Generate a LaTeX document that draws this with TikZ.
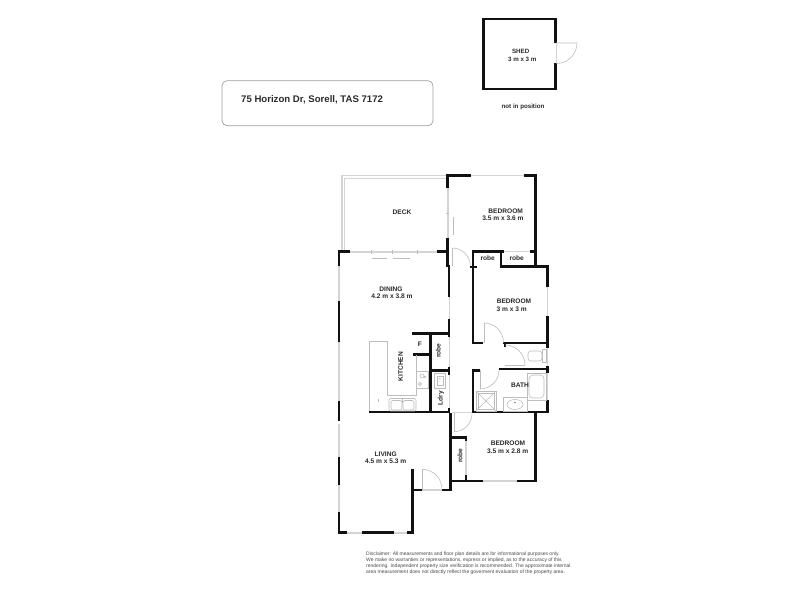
\documentclass[tikz,border=0pt]{standalone}
\usepackage{fontspec}
\setmainfont{Liberation Sans}
\definecolor{wallc}{HTML}{111111}
\definecolor{lightc}{HTML}{D4D4D4}
\definecolor{fixc}{HTML}{BDBDBD}
\definecolor{textc}{HTML}{2A2A2A}
\tikzset{
  wall/.style={draw=wallc,line width=2.7pt,line cap=butt},
  thinwall/.style={draw=wallc,line width=1.6pt},
  glass/.style={draw=lightc,line width=1.6pt},
  faint/.style={draw=lightc,line width=0.7pt},
  fixture/.style={draw=fixc,line width=0.6pt},
  doorline/.style={draw=fixc,line width=0.6pt},
  roomlabel/.style={font=\fontsize{6.6}{7.6}\selectfont\bfseries,text=textc,inner sep=0pt,align=center},
  smalllabel/.style={font=\fontsize{6.2}{7}\selectfont\bfseries,text=textc,inner sep=0pt},
  disclaimer/.style={font=\fontsize{5.0}{5.9}\selectfont,text=textc!85!white,inner sep=0pt,align=left,anchor=north west},
}
\begin{document}
\begin{tikzpicture}[x=1pt,y=-1pt]
\useasboundingbox (0,0) rectangle (800,600);
\fill[white] (0,0) rectangle (800,600);

% title box
\draw[draw=gray!75,line width=0.7pt,rounded corners=5pt] (222,80.7) rectangle (433,125.7);
\node[anchor=west,inner sep=0pt,font=\fontsize{9.6}{11}\selectfont\bfseries,text=textc] (title) at (241,100) {75 Horizon Dr, Sorell, TAS 7172};

% shed
\draw[wall] (555.7,43) -- (555.7,19) -- (483.3,19) -- (483.3,89) -- (555.7,89) -- (555.7,63);
\draw[doorline] (556,43) -- (577,43) arc[start angle=0,end angle=90,radius=20.5];
\draw[faint] (556,43) -- (556,63);
\node[smalllabel] (shed) at (520.7,51.7) {SHED};
\node[smalllabel] (shedsize) at (522.3,59.3) {3 m x 3 m};
\node[smalllabel] (notpos) at (523,106.5) {not in position};

% deck
\draw[faint,line width=1.2pt] (447,175.5) -- (342,175.5) -- (342,251);
\draw[faint,line width=0.6pt] (447,178) -- (344.5,178) -- (344.5,251);

% glazing
\draw[glass] (471,175.5) -- (524,175.5);
\draw[glass] (350,251.7) -- (437,251.7);
\draw[glass] (447.7,188) -- (447.7,238);
\draw[glass] (339,266) -- (339,300.7);
\draw[glass] (339,342) -- (339,400.7);
\draw[glass] (339,424) -- (339,457);
\draw[glass] (339,485) -- (339,512);
\draw[glass] (347,532.7) -- (362,532.7);
\draw[glass] (394,532.7) -- (407,532.7);
\draw[glass] (483,481) -- (517,481);
\draw[glass] (547.3,286.7) -- (547.3,315.7);
\draw[glass] (547.3,348) -- (547.3,366);
\draw[glass] (547.3,373) -- (547.3,400);
\draw[glass] (422,490) -- (442,490);
\draw[faint,line width=1pt] (449,297) -- (449,319);
\draw[faint,line width=1pt] (449,337) -- (449,366.7);
\draw[faint,line width=1pt] (449,375) -- (449,408);
\draw[faint,line width=1.2pt] (504,251.7) -- (530,251.7);
\draw[faint,line width=1.2pt] (466,441) -- (466,475);
\draw[faint,line width=1pt] (473,412) -- (452,412);

% sliding door marks
\foreach \x in {371,392,417} \draw[fixc,line width=0.8pt] (\x,250) -- (\x,253.5);
\draw[fixc,line width=0.6pt] (372,258) -- (387,258) (393,258) -- (410,258);
\draw[fixc,line width=0.6pt] (453,217) -- (453,235);
\draw[fixc,line width=0.8pt] (446,213.5) -- (449,213.5);

% exterior and main walls
\draw[wall] (447.7,188) -- (447.7,175.5) -- (471,175.5);
\draw[wall] (524,175.5) -- (535.3,175.5) -- (535.3,266);
\draw[wall] (447.7,238) -- (447.7,267);
\draw[wall] (449,265) -- (449,297);
\draw[wall] (449,319) -- (449,337);
\draw[wall] (350,251.7) -- (339,251.7) -- (339,266);
\draw[wall] (437,251.7) -- (447,251.7);
\draw[wall] (339,300.7) -- (339,342);
\draw[wall] (339,400.7) -- (339,421);
\draw[wall] (339,457) -- (339,485);
\draw[wall] (339,512) -- (339,532.7) -- (347,532.7);
\draw[wall] (362,532.7) -- (394,532.7);
\draw[wall] (407,532.7) -- (413.5,532.7);
\draw[wall] (412.3,534) -- (412.3,469);
\draw[wall] (412.3,490) -- (422,490);
\draw[wall] (442,490) -- (450.7,490) -- (450.7,413);
\draw[wall] (369,412) -- (450,412);
\draw[wall] (473,412) -- (548.5,412);
\draw[wall] (535.3,412) -- (535.3,481) -- (517,481);
\draw[wall] (483,481) -- (451,481);
\draw[wall] (451,437.7) -- (467,437.7);
\draw[thinwall] (466,437.7) -- (466,441) (466,475) -- (466,481);

% bedrooms core
\draw[wall] (500,266.7) -- (547.3,266.7) -- (547.3,286.7);
\draw[wall] (547.3,315.7) -- (547.3,348);
\draw[wall] (547.3,366) -- (547.3,373);
\draw[wall] (547.3,400) -- (547.3,413);
\draw[wall] (504,251.7) -- (473,251.7) -- (473,343) -- (483,343);
\draw[wall] (501,251.7) -- (501,268);
\draw[wall] (530,251.7) -- (535.3,251.7);
\draw[thinwall] (469.5,267) -- (477,267);
\draw[wall] (503,343) -- (548.5,343);
\draw[thinwall] (505,343) -- (505,347);
\draw[wall] (499,369) -- (548.5,369);
\draw[wall] (480,370.7) -- (473,370.7) -- (473,413);

% kitchen core
\draw[wall] (412,333.3) -- (450,333.3);
\draw[wall] (430.7,333.3) -- (430.7,412);
\draw[wall] (413,354.3) -- (431,354.3);
\draw[wall] (431,370.7) -- (450,370.7);
\draw[wall] (449,366.7) -- (449,375);
\draw[wall] (449,408) -- (449,412);

% doors (y axis points down, so +90 degrees is downward)
\draw[doorline] (452.3,248) -- (452.3,266);
\draw[doorline] (452.3,248) arc[start angle=-90,end angle=0,radius=18];
\draw[doorline] (484,323) -- (484,343);
\draw[doorline] (484,323) arc[start angle=-90,end angle=0,radius=19.5];
\draw[doorline] (505,365) -- (525,365);
\draw[doorline] (525,365) arc[start angle=0,end angle=-90,radius=20];
\draw[doorline] (480,370) -- (480,389);
\draw[doorline] (480,389) arc[start angle=90,end angle=0,radius=19];
\draw[doorline] (454,413) -- (454,431.7);
\draw[doorline] (454,431.7) arc[start angle=90,end angle=0,radius=18];
\draw[doorline] (422,469.3) -- (422,490);
\draw[doorline] (422,469.3) arc[start angle=-90,end angle=0,radius=20];

% kitchen bench
\draw[fixture] (369,411) -- (369,341.7) -- (387,341.7) -- (387,395.7) -- (416,395.7) -- (416,355);
\draw[fixture] (378,399) -- (378,402);
% kitchen sink
\draw[fixture] (416,371) rectangle (428,388);
\draw[fixture] (422,376) circle[radius=2] (420,384) circle[radius=1.6] (425,377) circle[radius=0.8];
% laundry trough
\draw[fixture] (434,373) rectangle (445,388);
\draw[fixture] (437,376) rectangle (443,385);
\fill[fixc] (439.8,378.5) circle[radius=0.8];
% double sink
\draw[fixture,rounded corners=1.5pt] (389,398.5) rectangle (416,411);
\draw[fixture,rounded corners=2pt] (391,400.5) rectangle (402,410);
\draw[fixture,rounded corners=2pt] (403,400.5) rectangle (414,410);
\draw[fixture] (402.5,398.5) -- (402.5,403);
% shower
\draw[fixture] (476,391) rectangle (496,411);
\draw[fixture] (476,391) -- (496,411) (496,391) -- (476,411);
\draw[fixture] (478,393) rectangle (494,409);
% vanity
\draw[fixture] (503,397) rectangle (527,411);
\draw[fixture] (515,404.5) ellipse[x radius=8,y radius=5];
\fill[fixc!70!black] (515,402.5) circle[radius=0.8];
% bath
\draw[fixture] (527,373) rectangle (546,400);
\draw[fixture,rounded corners=4pt] (529,375) rectangle (544,398);
% toilet
\draw[fixture,rounded corners=3pt] (528,351) rectangle (542,361);
\draw[fixture] (542,349.5) rectangle (546,362.5);

% labels
\node[roomlabel] (deck) at (402,212.5) {DECK};
\node[roomlabel] (bed1) at (505.7,211) {BEDROOM};
\node[roomlabel] (bed1s) at (503,218.7) {3.5 m x 3.6 m};
\node[roomlabel] (dining) at (391,289) {DINING};
\node[roomlabel] (dinings) at (392,296.7) {4.2 m x 3.8 m};
\node[roomlabel] (bed2) at (514,301.7) {BEDROOM};
\node[roomlabel] (bed2s) at (511.7,309) {3 m x 3 m};
\node[roomlabel] (robea) at (487.7,258.3) {robe};
\node[roomlabel] (robeb) at (516.7,258.3) {robe};
\node[roomlabel] (fridge) at (420,344.7) {F};
\node[roomlabel,rotate=90] (robec) at (438.3,350.7) {robe};
\node[roomlabel,rotate=90] (kitchen) at (400.7,366.7) {KITCHEN};
\node[roomlabel,rotate=90] (ldry) at (441,398) {Ldry};
\node[roomlabel] (bath) at (520,385) {BATH};
\node[roomlabel] (living) at (385.7,454) {LIVING};
\node[roomlabel] (livings) at (385.7,461.3) {4.5 m x 5.3 m};
\node[roomlabel] (bed3) at (508,443) {BEDROOM};
\node[roomlabel] (bed3s) at (507.7,451.3) {3.5 m x 2.8 m};
\node[roomlabel,rotate=90] (robed) at (460,455.7) {robe};

% disclaimer
\node[disclaimer] (disc) at (366,552) {Disclaimer: All measurements and floor plan details are for informational purposes only.\\We  make no warranties or representations, express or implied, as to the accuracy of this\\rendering. Independent property size verification is recommended. The approximate internal\\area measurement does not directly reflect the goverment evaluation of the property area.};
\end{tikzpicture}
\end{document}
